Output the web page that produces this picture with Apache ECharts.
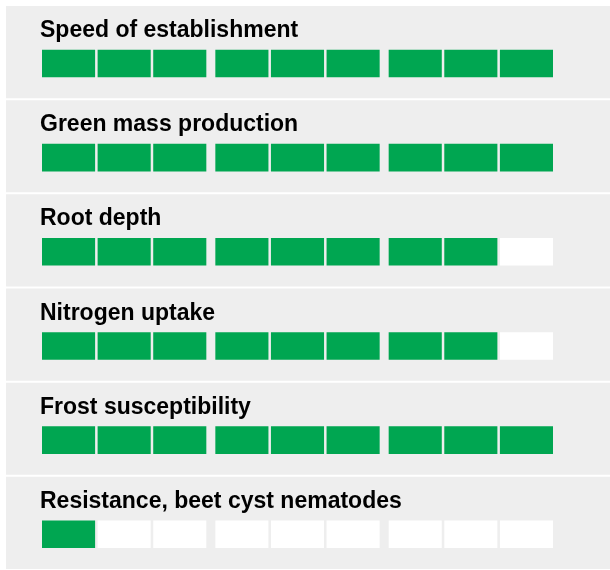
<!DOCTYPE html>
<html>
<head>
<meta charset="utf-8">
<script src="https://cdn.jsdelivr.net/npm/echarts@6/dist/echarts.min.js"></script>
<style>
  html, body { margin: 0; padding: 0; background: #ffffff; }
  #chart { width: 610px; height: 570px; }
</style>
</head>
<body>
<div id="chart"></div>
<script>
// ---- Data ----
const traits = [
  'Speed of establishment',
  'Green mass production',
  'Root depth',
  'Nitrogen uptake',
  'Frost susceptibility',
  'Resistance, beet cyst nematodes'
];
const scores = [9, 9, 8, 8, 9, 1];
const maxScore = 9;
const groupSize = 3;

// ---- Layout constants (axis units) ----
const CELL_W = 0.955;      // width of one cell (pitch = 1)
const GROUP_GAP = 0.117;   // extra gap between groups of 3
const X_MAX = (maxScore - 1) + Math.floor((maxScore - 1) / groupSize) * GROUP_GAP + CELL_W;
const BG_X0 = -0.647, BG_X1 = 10.25;
const BG_Y0 = 0.0105, BG_Y1 = 0.9895;
const CELL_Y0 = 0.4747, CELL_Y1 = 0.7676;
const TITLE_X = -0.036, TITLE_Y = 0.2725;

const GREEN = '#00a651';
const EMPTY = '#ffffff';
const PANEL = '#eeeeee';

const cellData = [];
traits.forEach((t, k) => {
  for (let i = 0; i < maxScore; i++) {
    cellData.push([i, k, i < scores[k] ? 1 : 0]);
  }
});

const chart = echarts.init(document.getElementById('chart'), null, { renderer: 'canvas' });

chart.setOption({
  animation: false,
  backgroundColor: '#ffffff',
  grid: { left: 42, width: 511, top: 5, height: 568.8, containLabel: false },
  xAxis: { type: 'value', min: 0, max: X_MAX, show: false },
  yAxis: { type: 'value', min: 0, max: traits.length, inverse: true, show: false },
  series: [
    {
      type: 'custom',
      clip: false,
      silent: true,
      data: traits.map((t, k) => [k]),
      renderItem: function (params, api) {
        const k = api.value(0);
        const p0 = api.coord([BG_X0, k + BG_Y0]);
        const p1 = api.coord([BG_X1, k + BG_Y1]);
        const pt = api.coord([TITLE_X, k + TITLE_Y]);
        return {
          type: 'group',
          children: [
            {
              type: 'rect',
              shape: { x: p0[0], y: p0[1], width: p1[0] - p0[0], height: p1[1] - p0[1] },
              style: { fill: PANEL }
            },
            {
              type: 'text',
              x: pt[0], y: pt[1],
              style: {
                text: traits[k],
                fill: '#000000',
                font: 'bold 23px "Liberation Sans", Arial, sans-serif',
                textAlign: 'left',
                textVerticalAlign: 'middle'
              }
            }
          ]
        };
      }
    },
    {
      type: 'custom',
      clip: false,
      silent: true,
      data: cellData,
      renderItem: function (params, api) {
        const i = api.value(0);
        const k = api.value(1);
        const filled = api.value(2);
        const xs = i + Math.floor(i / groupSize) * GROUP_GAP;
        const a = api.coord([xs, k + CELL_Y0]);
        const b = api.coord([xs + CELL_W, k + CELL_Y1]);
        return {
          type: 'rect',
          shape: { x: a[0], y: a[1], width: b[0] - a[0], height: b[1] - a[1] },
          style: { fill: filled ? GREEN : EMPTY }
        };
      }
    }
  ]
});
</script>
</body>
</html>
